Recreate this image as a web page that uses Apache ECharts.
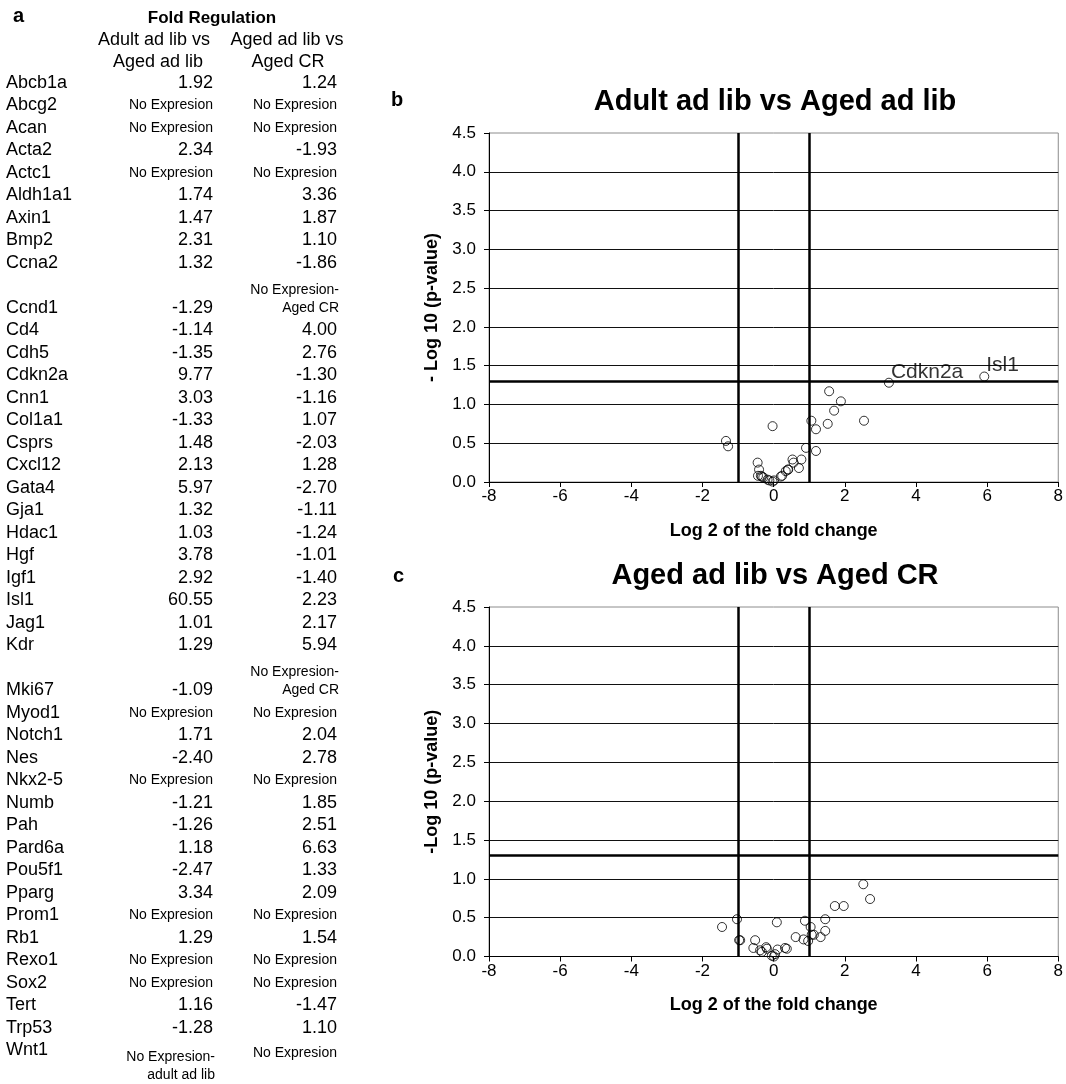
<!DOCTYPE html>
<html><head><meta charset="utf-8">
<script src="https://cdn.jsdelivr.net/npm/echarts@6/dist/echarts.min.js"></script>
<style>html,body{margin:0;padding:0;background:#fff}#c{width:1066px;height:1084px}</style>
</head><body><div id="c"></div>
<script>
// ---------- Panel a: table ----------
const NE = 'No Expresion';
const genes = ['Abcb1a','Abcg2','Acan','Acta2','Actc1','Aldh1a1','Axin1','Bmp2','Ccna2','Ccnd1','Cd4','Cdh5','Cdkn2a','Cnn1','Col1a1','Csprs','Cxcl12','Gata4','Gja1','Hdac1','Hgf','Igf1','Isl1','Jag1','Kdr','Mki67','Myod1','Notch1','Nes','Nkx2-5','Numb','Pah','Pard6a','Pou5f1','Pparg','Prom1','Rb1','Rexo1','Sox2','Tert','Trp53','Wnt1'];
const foldAdult = ['1.92',NE,NE,'2.34',NE,'1.74','1.47','2.31','1.32','-1.29','-1.14','-1.35','9.77','3.03','-1.33','1.48','2.13','5.97','1.32','1.03','3.78','2.92','60.55','1.01','1.29','-1.09',NE,'1.71','-2.40',NE,'-1.21','-1.26','1.18','-2.47','3.34',NE,'1.29',NE,NE,'1.16','-1.28','No Expresion-\nadult ad lib'];
const foldAged = ['1.24',NE,NE,'-1.93',NE,'3.36','1.87','1.10','-1.86','No Expresion-\nAged CR','4.00','2.76','-1.30','-1.16','1.07','-2.03','1.28','-2.70','-1.11','-1.24','-1.01','-1.40','2.23','2.17','5.94','No Expresion-\nAged CR',NE,'2.04','2.78',NE,'1.85','2.51','6.63','1.33','2.09',NE,'1.54',NE,NE,'-1.47','1.10',NE];
const tableTitle = 'Fold Regulation';
const colHeads = [['Adult ad lib vs','Aged ad lib'],['Aged ad lib vs','Aged CR']];

// ---------- Panel b: Adult ad lib vs Aged ad lib ----------
const bTitle = 'Adult ad lib vs Aged ad lib';
const bX = [-1.34,-1.28,-0.03,-0.45,-0.41,-0.44,-0.36,-0.33,-0.29,-0.17,-0.12,-0.03,0.01,0.20,0.24,0.34,0.40,0.41,0.53,0.56,0.71,0.78,0.91,1.06,1.19,1.19,1.52,1.56,1.70,1.89,2.54];
const bY = [0.53,0.46,0.72,0.25,0.16,0.08,0.08,0.07,0.06,0.03,0.02,0.005,0.02,0.07,0.08,0.14,0.16,0.16,0.29,0.25,0.18,0.29,0.44,0.79,0.68,0.40,0.75,1.17,0.92,1.04,0.79];
const bLabelNames = ['Cdkn2a','Isl1'];
const bLabelX = [3.24,5.92];
const bLabelY = [1.28,1.36];

// ---------- Panel c: Aged ad lib vs Aged CR ----------
const cTitle = 'Aged ad lib vs Aged CR';
const cX = [-1.45,-1.03,-0.97,-0.94,-0.52,-0.57,-0.38,-0.33,-0.21,-0.19,-0.05,0.01,0.04,0.11,0.09,0.32,0.37,0.62,0.84,0.88,0.97,1.04,1.07,1.13,1.32,1.45,1.45,1.72,1.97,2.52,2.71];
const cY = [0.38,0.48,0.21,0.21,0.21,0.11,0.08,0.06,0.12,0.10,0.01,0.0,0.03,0.09,0.44,0.11,0.10,0.25,0.22,0.46,0.20,0.38,0.28,0.28,0.25,0.33,0.48,0.65,0.65,0.93,0.74];

const pThreshold = 1.3;
const foldThresholds = [-1, 1];
const xTicks = {min: -8, max: 8, interval: 2};
const yTicks = {min: 0, max: 4.5, interval: 0.5};
const yNames = ['- Log 10 (p-value)', '-Log 10 (p-value)'];
const xName = 'Log 2 of the fold change';

// ---------- build ----------
const FF = 'Liberation Sans, Arial, Helvetica, sans-serif';
const graphics = [];
function txt(t, x, y, size, align, bold, va) {
  graphics.push({type:'text', x:x, y:y, silent:true, style:{text:t, fill:'#000', font:(bold?'bold ':'')+size+'px '+FF, align:align, verticalAlign:va||'middle'}});
}
txt('a', 13, 16, 20, 'left', true);
txt(tableTitle, 212, 18, 17, 'center', true);
txt(colHeads[0][0], 154, 40, 18, 'center');
txt(colHeads[0][1], 158, 62, 18, 'center');
txt(colHeads[1][0], 287, 40, 18, 'center');
txt(colHeads[1][1], 288, 62, 18, 'center');
const rowY0 = 83, rowH = 22.5, colR = [213, 337];
let slot = 0;
genes.forEach((g, i) => {
  const last = i === genes.length - 1;
  const cells = [foldAdult[i], foldAged[i]];
  if (!last && cells.some(c => c.indexOf('\n') >= 0)) slot += 1;
  const y = rowY0 + slot * rowH;
  txt(g, 6, y, 18, 'left');
  cells.forEach((c, k) => {
    if (c.indexOf('\n') >= 0) {
      const parts = c.split('\n');
      if (last) { txt(parts[0], colR[k] + 2, y + 7, 14, 'right'); txt(parts[1], colR[k] + 2, y + 25, 14, 'right'); }
      else { txt(parts[0], colR[k] + 2, y - 18, 14, 'right'); txt(parts[1], colR[k] + 2, y, 14, 'right'); }
    } else if (c === NE) {
      txt(c, colR[k], last ? y + 3 : y, 14, 'right');
    } else {
      txt(c, colR[k], y, 18, 'right');
    }
  });
  slot += 1;
});
txt('b', 391, 100, 20, 'left', true);
txt(bTitle, 775, 102, 29, 'center', true);
txt('c', 393, 576, 20, 'left', true);
txt(cTitle, 775, 576, 29, 'center', true);

const grids = [
  {left: 489, top: 133, width: 571, height: 349},
  {left: 489, top: 607, width: 571, height: 349.5}
].map(g => Object.assign(g, {show: true, borderColor: '#8c8c8c', borderWidth: 1, backgroundColor: 'transparent', containLabel: false}));

const labelStyle = {fontFamily: FF, fontSize: 17, color: '#000'};
const xAxes = [0, 1].map(i => ({
  gridIndex: i, type: 'value', min: xTicks.min, max: xTicks.max, interval: xTicks.interval,
  axisLine: {show: true, onZero: false, lineStyle: {color: '#000', width: 1}},
  axisTick: {show: true, inside: false, length: 5, lineStyle: {color: '#000'}},
  axisLabel: Object.assign({margin: 6}, labelStyle),
  splitLine: {show: false},
  name: xName, nameLocation: 'middle', nameGap: 40,
  nameTextStyle: {fontFamily: FF, fontSize: 18, fontWeight: 'bold', color: '#000'}
}));
const yAxes = [0, 1].map(i => ({
  gridIndex: i, type: 'value', min: yTicks.min, max: yTicks.max, interval: yTicks.interval,
  axisLine: {show: true, onZero: false, lineStyle: {color: '#000', width: 1}},
  axisTick: {show: true, inside: false, length: 5, lineStyle: {color: '#000'}},
  axisLabel: Object.assign({margin: 13, formatter: v => v.toFixed(1)}, labelStyle),
  splitLine: {show: true, showMinLine: false, showMaxLine: false, lineStyle: {color: '#111', width: 1}},
  name: yNames[i], nameLocation: 'middle', nameGap: 47,
  nameTextStyle: {fontFamily: FF, fontSize: 18, fontWeight: 'bold', color: '#000'}
}));

const pointStyle = {color: 'rgba(0,0,0,0)', borderColor: '#000', borderWidth: 1};
const thresholdLines = {
  silent: true, symbol: ['none', 'none'], animation: false,
  lineStyle: {color: '#000', width: 2.5, type: 'solid'}, label: {show: false},
  data: [{yAxis: pThreshold}].concat(foldThresholds.map(v => ({xAxis: v})))
};
const zip = (xs, ys) => xs.map((x, i) => [x, ys[i]]);

const series = [
  {type: 'scatter', xAxisIndex: 0, yAxisIndex: 0, clip: false, symbol: 'circle', symbolSize: 9, itemStyle: pointStyle, data: zip(bX, bY), markLine: thresholdLines, z: 3},
  {type: 'scatter', xAxisIndex: 0, yAxisIndex: 0, clip: false, symbol: 'circle', symbolSize: 9, itemStyle: pointStyle, z: 3,
   data: bLabelNames.map((n, i) => ({name: n, value: [bLabelX[i], bLabelY[i]]})),
   label: {show: true, formatter: '{b}', position: 'right', distance: 0, offset: [-3, -11], fontFamily: FF, fontSize: 21, color: '#000'}},
  {type: 'scatter', xAxisIndex: 1, yAxisIndex: 1, clip: false, symbol: 'circle', symbolSize: 9, itemStyle: pointStyle, data: zip(cX, cY), markLine: thresholdLines, z: 3}
];

const chart = echarts.init(document.getElementById('c'), null, {renderer: 'canvas'});
chart.setOption({
  animation: false,
  backgroundColor: '#fff',
  grid: grids,
  xAxis: xAxes,
  yAxis: yAxes,
  series: series,
  graphic: graphics
});
</script>
</body></html>
